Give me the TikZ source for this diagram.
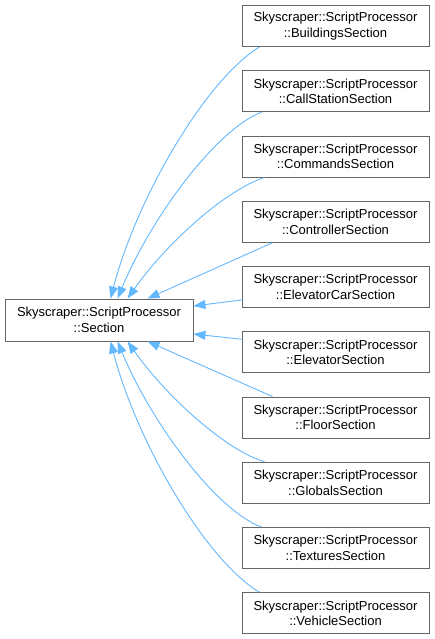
\documentclass[tikz,border=0pt]{standalone}
\usepackage{fontspec}
\setmainfont{Liberation Sans}
\usetikzlibrary{arrows.meta}

\definecolor{edgeblue}{HTML}{63B8FF}
\definecolor{boxgray}{HTML}{666666}

\begin{document}
\begin{tikzpicture}[x=1pt,y=-1pt,
      box/.style={rectangle,draw=boxgray,fill=white,line width=0.9pt,align=center,
        inner sep=0pt,font=\fontsize{13}{15.5}\selectfont},
      arr/.style={-{Triangle[length=12pt,width=9pt]},draw=edgeblue,line width=0.9pt}
    ]
      \useasboundingbox (0,0) rectangle (435,639);

      % base class
      \node[box,minimum width=188pt,minimum height=42pt] (sec) at (99,320)
        {Skyscraper::ScriptProcessor\\::Section};

      % derived classes
      \foreach \i/\name in {0/Buildings,1/CallStation,2/Commands,3/Controller,4/ElevatorCar,
                            5/Elevator,6/Floor,7/Globals,8/Textures,9/Vehicle} {
        \node[box,minimum width=187pt,minimum height=41pt] (r\i) at (335.5,{26+65.25*\i})
          {Skyscraper::ScriptProcessor\\::\name Section};
      }

      % upper edges
      \draw[arr] ([xshift=18pt]r0.south west) .. controls (205,80) and (136,200) .. ([xshift=106pt]sec.north west);
      \draw[arr] ([xshift=20pt]r1.south west) .. controls (215,130) and (150,220) .. ([xshift=113pt]sec.north west);
      \draw[arr] ([xshift=23pt]r2.south west) .. controls (225,190) and (165,245) .. ([xshift=123pt]sec.north west);
      \draw[arr] ([xshift=31pt]r3.south west) -- ([xshift=143pt]sec.north west);
      \draw[arr] ([yshift=-13pt]r4.west) -- ([yshift=14pt]sec.east);

      % lower edges
      \draw[arr] ([yshift=13pt]r5.west) -- ([yshift=-14pt]sec.east);
      \draw[arr] ([xshift=31pt]r6.north west) -- ([xshift=143pt]sec.south west);
      \draw[arr] ([xshift=23pt]r7.north west) .. controls (225,450) and (165,395) .. ([xshift=123pt]sec.south west);
      \draw[arr] ([xshift=20pt]r8.north west) .. controls (215,510) and (150,420) .. ([xshift=113pt]sec.south west);
      \draw[arr] ([xshift=18pt]r9.north west) .. controls (205,560) and (136,440) .. ([xshift=106pt]sec.south west);
    \end{tikzpicture}
\end{document}
